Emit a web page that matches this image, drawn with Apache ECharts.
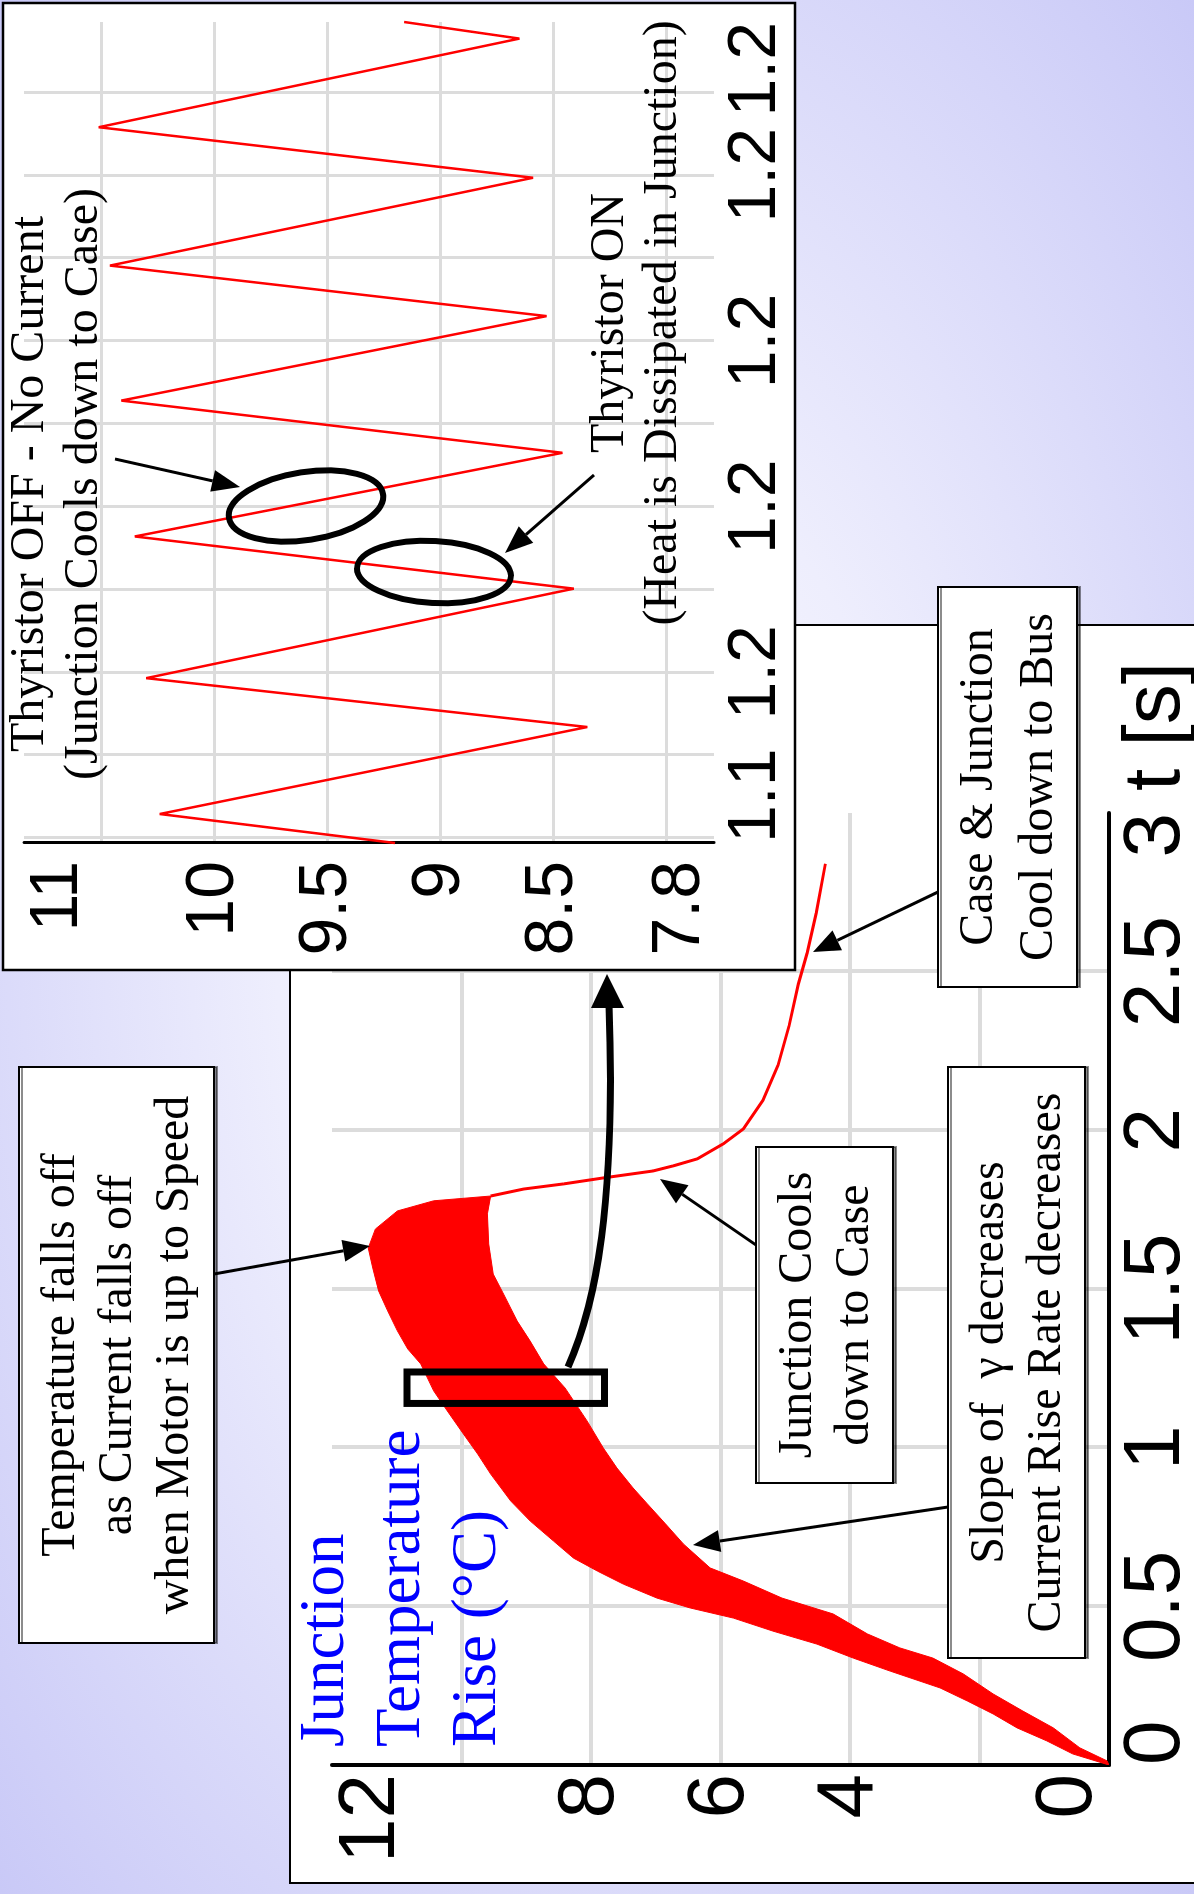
<!DOCTYPE html>
<html>
<head>
<meta charset="utf-8">
<title>Junction Temperature Rise</title>
<script src="https://cdn.jsdelivr.net/npm/echarts@6/dist/echarts.min.js"></script>
<style>
  html, body { margin: 0; padding: 0; }
  body {
    width: 1194px; height: 1894px; overflow: hidden; position: relative;
    background: radial-gradient(ellipse farthest-corner at 50% 50%, #FCFCFF 0%, #EEEEFD 38%, #C9C9F7 100%);
  }
  /* the slide is laid out landscape and turned a quarter turn counter-clockwise */
  #slide {
    position: absolute; left: 0; top: 0; width: 1894px; height: 1194px;
    transform-origin: 0 0; transform: translateY(1894px) rotate(-90deg);
  }
</style>
</head>
<body>
<div id="slide"></div>
<script>
// ---------- main trace: junction temperature rise during start-up ----------
// upper edge of the ripple band (peak junction temperature)
const upperTime = [0, 0.035, 0.076, 0.117, 0.161, 0.202, 0.243, 0.296, 0.337, 0.381, 0.422, 0.463, 0.495, 0.526, 0.570, 0.611, 0.652, 0.706, 0.769, 0.832, 0.917, 0.980, 1.043, 1.116, 1.179, 1.264, 1.311, 1.368, 1.431, 1.494, 1.566, 1.629, 1.689, 1.746, 1.778, 1.793];
const upperTemp = [0, 0.56, 0.96, 1.42, 1.79, 2.19, 2.61, 3.38, 3.95, 4.51, 5.19, 5.80, 6.47, 6.98, 7.50, 7.90, 8.27, 8.58, 8.94, 9.24, 9.55, 9.75, 9.97, 10.22, 10.43, 10.63, 10.83, 10.99, 11.14, 11.28, 11.37, 11.44, 11.33, 10.99, 10.43, 9.55];
// lower edge of the ripple band (valley junction temperature)
const lowerTime = [0, 0.013, 0.054, 0.117, 0.170, 0.224, 0.287, 0.337, 0.369, 0.413, 0.476, 0.526, 0.580, 0.621, 0.696, 0.760, 0.823, 0.873, 0.936, 0.999, 1.084, 1.188, 1.264, 1.336, 1.399, 1.484, 1.547, 1.642, 1.737];
const lowerTemp = [0, 0.03, 0.45, 0.86, 1.33, 1.79, 2.25, 2.72, 3.23, 3.73, 4.26, 5.05, 5.65, 6.16, 6.57, 6.85, 7.13, 7.35, 7.60, 7.81, 8.06, 8.40, 8.73, 8.94, 9.14, 9.35, 9.51, 9.58, 9.60];
// single trace once the ripple stops (junction, then case, cooling)
const tailTime = [1.793, 1.815, 1.831, 1.850, 1.872, 1.888, 1.910, 1.957, 2.004, 2.096, 2.206, 2.33, 2.46, 2.56, 2.685, 2.84];
const tailTemp = [9.55, 9.04, 8.43, 7.81, 7.04, 6.73, 6.36, 5.96, 5.65, 5.34, 5.11, 4.94, 4.80, 4.66, 4.52, 4.38];

// main axes
const mainTimeTicks = [0, 0.5, 1, 1.5, 2, 2.5, 3];
const mainTempLabels = [0, 4, 6, 8, 12];

// ---------- close-up window around t = 1.2 s ----------
const zoomStart = 1.1394, zoomEnd = 1.2385;
const zoomLow = 7.79, zoomHigh = 10.84;
// alternating peaks (thyristor turns off) and valleys (thyristor turns on)
const insetTime = [1.1394, 1.1429, 1.1534, 1.1593, 1.1701, 1.1764, 1.1865, 1.1928, 1.2030, 1.2091, 1.2197, 1.2258, 1.2365, 1.2385];
const insetTemp = [9.20, 10.24, 8.35, 10.30, 8.41, 10.35, 8.46, 10.41, 8.53, 10.46, 8.59, 10.51, 8.65, 9.16];
const insetTimeGrid = [1.14, 1.15, 1.16, 1.17, 1.18, 1.19, 1.20, 1.21, 1.22, 1.23];
const insetTimeLabels = [1.1394, 1.16, 1.18, 1.20, 1.22, 1.2385];
const insetTempGrid = [8, 8.5, 9, 9.5, 10, 10.5];
const insetTempLabels = [7.79, 8.5, 9, 9.5, 10, 10.84];

const SANS = '"Liberation Sans", Arial, sans-serif';
const SERIF = '"Liberation Serif", "Times New Roman", serif';
const RED = '#FF0000';
const GRID_GREY = '#DCDCDC';

const twoSig = v => String(parseFloat(Number(v).toPrecision(2)));

const bandOutline = upperTime.map((t, i) => [t, upperTemp[i]])
  .concat(lowerTime.map((t, i) => [t, lowerTemp[i]]).reverse());

// ---------- annotation helpers ----------
function arrow(x1, y1, x2, y2, width, headLen, headW) {
  const a = Math.atan2(y2 - y1, x2 - x1);
  const bx = x2 - headLen * Math.cos(a), by = y2 - headLen * Math.sin(a);
  const nx = -Math.sin(a) * headW / 2, ny = Math.cos(a) * headW / 2;
  return [
    { type: 'line', z: 20, silent: true,
      shape: { x1: x1, y1: y1, x2: bx, y2: by },
      style: { stroke: '#000', lineWidth: width } },
    { type: 'polygon', z: 20, silent: true,
      shape: { points: [[x2, y2], [bx + nx, by + ny], [bx - nx, by - ny]] },
      style: { fill: '#000' } }
  ];
}
function note(x, y, w, h, text, lineHeight) {
  return [
    { type: 'rect', z: 20, silent: true,
      shape: { x: x, y: y, width: w, height: h },
      style: { fill: '#FFFFFF', stroke: '#000', lineWidth: 2,
               shadowColor: 'rgba(0,0,0,0.45)', shadowOffsetX: 0, shadowOffsetY: 3, shadowBlur: 0 } },
    label(x + w / 2, y + h / 2 + 2, text, lineHeight)
  ];
}
function label(x, y, text, lineHeight) {
  return { type: 'text', z: 21, silent: true,
    style: { x: x, y: y, text: text, align: 'center', verticalAlign: 'middle',
             fontSize: 48, fontFamily: SERIF, fill: '#000', lineHeight: lineHeight } };
}
function ring(cx, cy, rx, ry, rot) {
  return { type: 'ellipse', z: 20, silent: true, x: cx, y: cy, rotation: rot,
    shape: { cx: 0, cy: 0, rx: rx, ry: ry },
    style: { fill: 'none', stroke: '#000', lineWidth: 6 } };
}

const graphics = [
  // white panels
  { type: 'rect', z: -5, silent: true, shape: { x: 11, y: 290, width: 1258, height: 960 },
    style: { fill: '#FFFFFF', stroke: '#000', lineWidth: 2 } },
  { type: 'rect', z: 10, silent: true, shape: { x: 924, y: 3, width: 967, height: 792 },
    style: { fill: '#FFFFFF', stroke: '#000', lineWidth: 2.5 } },
  // y title of the main chart
  { type: 'text', z: 21, silent: true,
    style: { x: 147, y: 288, text: 'Junction\nTemperature\nRise (°C)', align: 'left', verticalAlign: 'top',
             fontSize: 63, fontFamily: SERIF, fill: '#0000FF', lineHeight: 76 } },
  // curved pointer from the zoom window to the close-up
  { type: 'bezierCurve', z: 20, silent: true,
    shape: { x1: 527, y1: 568, cpx1: 590, cpy1: 596, cpx2: 690, cpy2: 616, x2: 890, y2: 609 },
    style: { stroke: '#000', lineWidth: 7, fill: 'none' } },
  { type: 'polygon', z: 20, silent: true,
    shape: { points: [[920, 607], [886, 591], [886, 624]] }, style: { fill: '#000' } },
  // close-up callouts
  ring(1388, 306, 34, 78, 0.153),
  ring(1322, 434, 31, 77, -0.056),
  label(1410, 57, 'Thyristor OFF - No Current\n(Junction Cools down to Case)', 54),
  label(1571, 637, 'Thyristor ON\n(Heat is Dissipated in Junction)', 53)
].concat(
  note(251, 19, 576, 195, 'Temperature falls off\nas Current falls off\nwhen Motor is up to Speed', 57),
  note(411, 756, 336, 137, 'Junction Cools\ndown to Case', 57),
  note(236, 948, 591, 137, 'Slope of  \u03b3 decreases\nCurrent Rise Rate decreases', 57),
  note(907, 938, 400, 139, 'Case & Junction\nCool down to Bus', 60),
  arrow(620, 214, 648, 370, 3, 27, 22),
  arrow(649, 756, 715, 660, 3, 27, 22),
  arrow(387, 948, 349, 693, 3, 27, 22),
  arrow(1002, 938, 942, 813, 3, 27, 22),
  arrow(1435, 115, 1407, 240, 3, 28, 22),
  arrow(1419, 594, 1341, 505, 3, 28, 22)
);

const chart = echarts.init(document.getElementById('slide'), null, { renderer: 'canvas' });
chart.setOption({
  animation: false,
  backgroundColor: 'transparent',
  grid: [
    { left: 129, top: 332, width: 952, height: 777, containLabel: false, outerBoundsMode: 'none' },
    { left: 1051, top: 24, width: 821, height: 690, containLabel: false, outerBoundsMode: 'none' }
  ],
  xAxis: [
    { type: 'value', gridIndex: 0, min: 0, max: 3, interval: 0.5, z: 1,
      axisLine: { show: true, onZero: false, lineStyle: { color: '#000', width: 4 } },
      axisTick: { show: false },
      splitLine: { show: true, showMinLine: false, showMaxLine: false, lineStyle: { color: GRID_GREY, width: 4 } },
      axisLabel: { customValues: mainTimeTicks, fontSize: 80, fontFamily: SANS, color: '#000', margin: 8,
                   alignMinLabel: 'left', alignMaxLabel: 'right', formatter: v => String(v) },
      name: 't [s]', nameLocation: 'end', nameGap: 22,
      nameTextStyle: { fontSize: 80, fontFamily: SANS, color: '#000', verticalAlign: 'top', padding: [8, 0, 0, 0] } },
    { type: 'value', gridIndex: 1, min: zoomStart, max: zoomEnd, z: 11,
      axisLine: { show: false },
      axisTick: { show: false, customValues: insetTimeGrid },
      splitLine: { show: true, lineStyle: { color: GRID_GREY, width: 3 } },
      axisLabel: { customValues: insetTimeLabels, formatter: twoSig, fontSize: 68, fontFamily: SANS, color: '#000',
                   margin: 8, alignMinLabel: 'left', alignMaxLabel: 'right' } }
  ],
  yAxis: [
    { type: 'value', gridIndex: 0, min: 0, max: 12, interval: 2, z: 1,
      axisLine: { show: true, onZero: false, lineStyle: { color: '#000', width: 4 } },
      axisTick: { show: false },
      splitLine: { show: true, showMinLine: false, showMaxLine: false, lineStyle: { color: GRID_GREY, width: 4 } },
      axisLabel: { customValues: mainTempLabels, fontSize: 80, fontFamily: SANS, color: '#000', margin: 9,
                   verticalAlignMinLabel: 'bottom', verticalAlignMaxLabel: 'top' } },
    { type: 'value', gridIndex: 1, min: zoomLow, max: zoomHigh, z: 11,
      axisLine: { show: true, onZero: false, lineStyle: { color: '#000', width: 3 } },
      axisTick: { show: false, customValues: insetTempGrid },
      splitLine: { show: true, lineStyle: { color: GRID_GREY, width: 3 } },
      axisLabel: { customValues: insetTempLabels, formatter: twoSig, fontSize: 68, fontFamily: SANS, color: '#000',
                   margin: 18, verticalAlignMinLabel: 'bottom', verticalAlignMaxLabel: 'top' } }
  ],
  series: [
    { type: 'custom', name: 'ripple band', xAxisIndex: 0, yAxisIndex: 0, z: 3, silent: true, clip: true,
      data: [[0, 0]],
      renderItem: (params, api) => ({
        type: 'polygon',
        shape: { points: bandOutline.map(p => api.coord(p)) },
        style: { fill: RED, stroke: RED, lineWidth: 1 }
      }) },
    { type: 'line', name: 'cool-down', xAxisIndex: 0, yAxisIndex: 0, z: 4, silent: true,
      data: tailTime.map((t, i) => [t, tailTemp[i]]),
      showSymbol: false, symbol: 'none', lineStyle: { color: RED, width: 3 },
      markArea: { silent: true, z: 5,
        itemStyle: { color: 'rgba(0,0,0,0)', borderColor: '#000', borderWidth: 7 },
        data: [[{ coord: [zoomStart, zoomHigh] }, { coord: [zoomEnd, zoomLow] }]] } },
    { type: 'line', name: 'close-up', xAxisIndex: 1, yAxisIndex: 1, z: 12, silent: true, clip: true,
      data: insetTime.map((t, i) => [t, insetTemp[i]]),
      showSymbol: false, symbol: 'none', lineStyle: { color: RED, width: 2.5 } }
  ],
  graphic: { elements: graphics }
});
</script>
</body>
</html>
